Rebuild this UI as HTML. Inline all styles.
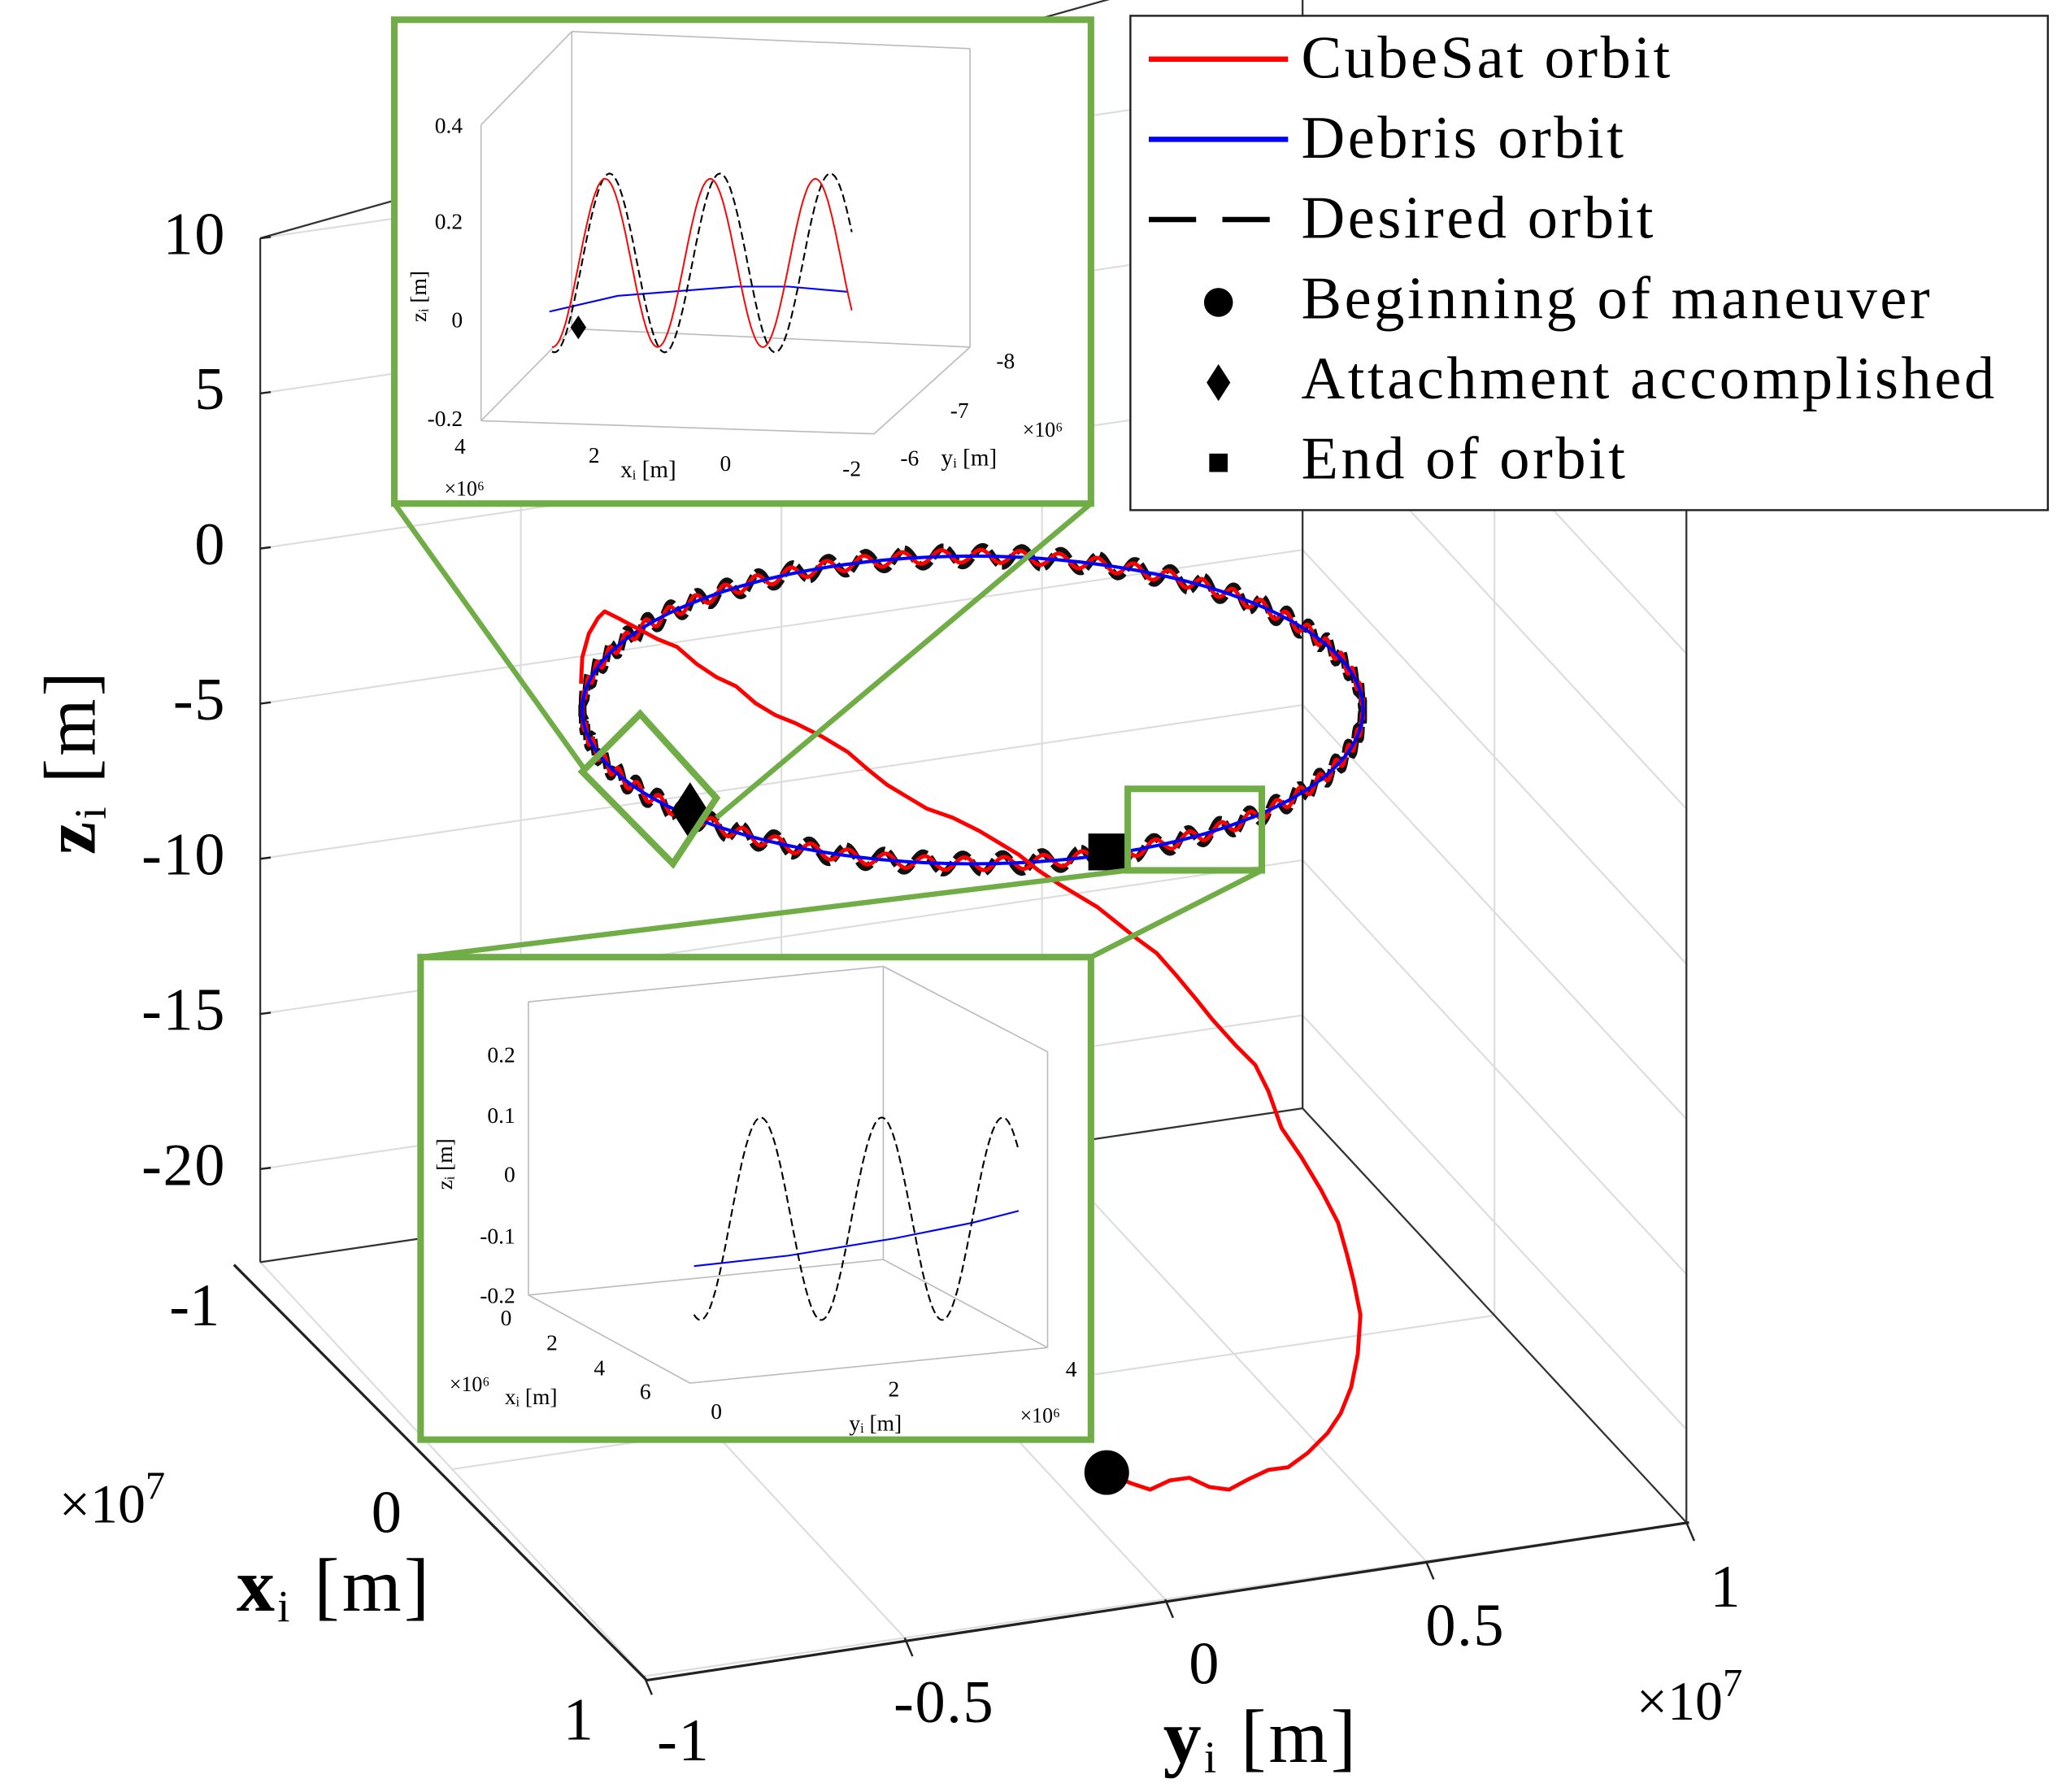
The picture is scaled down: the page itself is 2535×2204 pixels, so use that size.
<!DOCTYPE html>
<html><head><meta charset="utf-8"><style>
html,body{margin:0;padding:0;background:#fff;}
svg{display:block;}
text{font-family:"Liberation Serif","DejaVu Serif",serif;fill:#000;}
</style></head><body>
<svg id="chart" width="2535" height="2204" viewBox="0 0 1568 1363" preserveAspectRatio="none" xmlns="http://www.w3.org/2000/svg">
<g id="grid"></g>
<g id="axes"></g>
<g id="ticks"></g>
<g id="series"></g>
<g id="insets"></g>
<g id="legend"></g>
</svg>
<script>
// ---- data ----
const zTicks = [10, 5, 0, -5, -10, -15, -20];
const zTickLabels = ["10", "5", "0", "-5", "-10", "-15", "-20"];
const xTicks = [-1, 0, 1];
const xTickLabels = ["-1", "0", "1"];
const yTicks = [-1, -0.5, 0, 0.5, 1];
const yTickLabels = ["-1", "-0.5", "0", "0.5", "1"];
// orbit (screen-projected ellipse parameters in plot units)
const orbitCenter = [740, 540];
const orbitRadii = [297, 117];
const desiredWaveCycles = 62;
const desiredWaveAmp = 7;
// CubeSat transfer path (projected plot units)
const transferU = [842,860,875,890,905,920,935,950,965,980,995,1010,1020,1028,1033,1035,1030,1025,1018,1005,990,975,965,955,940,922,910,895,880,865,850,835,820,805,790,775,760,745,725,705,690,675,660,645,625,605,590,575,560,545,530,515,500,485,470,460,455,448,443,442];
const transferV = [1120,1128,1133,1126,1124,1131,1133,1125,1118,1116,1105,1090,1075,1055,1030,1000,975,955,930,905,880,858,830,810,795,775,760,742,725,714,702,690,681,672,662,650,641,632,622,615,606,597,585,572,560,550,544,535,522,515,505,492,486,478,470,465,470,482,500,520];
const markerBegin = [842, 1120];
const markerAttach = [525, 617];
const markerEnd = [842, 648];

// ---- projection ----
function P(x, y, z) {
  const a = (x + 1) / 2, b = (y + 1) / 2;
  return [198 + a * 292 + b * 793, 960 + a * 315 - b * 117 - (z + 23) * 23.6];
}
const NS = "http://www.w3.org/2000/svg";
function el(parent, tag, attrs, txt) {
  const e = document.createElementNS(NS, tag);
  for (const k in attrs) e.setAttribute(k, attrs[k]);
  if (txt !== undefined) e.textContent = txt;
  parent.appendChild(e);
  return e;
}
function line(g, p, q, stroke, w) {
  return el(g, "line", {x1: p[0], y1: p[1], x2: q[0], y2: q[1], stroke: stroke, "stroke-width": w});
}
const grid = document.getElementById("grid");
const axes = document.getElementById("axes");
const ticks = document.getElementById("ticks");
const series = document.getElementById("series");
const insets = document.getElementById("insets");
const legend = document.getElementById("legend");
const GC = "#dcdcdc";
zTicks.forEach(z => {
  const l1 = line(grid, P(-1, -1, z), P(-1, 1, z), GC, 1.3);
  
  
  const l2 = line(grid, P(-1, 1, z), P(1, 1, z), GC, 1.3);
  
  
});
yTicks.forEach(y => {
  if (y > -1) {
    const l = line(grid, P(-1, y, -23), P(-1, y, 13), GC, 1.3);
    
    
  }
  const f = line(grid, P(-1, y, -23), P(1, y, -23), GC, 1.3);
  
  
});
xTicks.forEach(x => {
  const l = line(grid, P(x, 1, -23), P(x, 1, 13), GC, 1.3);
  
  
  const f = line(grid, P(x, -1, -23), P(x, 1, -23), GC, 1.3);
  
  
});
[[P(-1,-1,-23),P(-1,-1,10)],[P(-1,1,-23),P(-1,1,13)],[P(1,1,-23),P(1,1,13)],[P(-1,-1,10),P(-1,1,14.5)],[P(-1,1,-23),P(1,1,-23)],[P(-1,-1,-23),P(-1,1,-23)]].forEach(e => {
  const l = line(axes, e[0], e[1], "#333", 1.4);
  
  
});
const xa = line(axes, [178, 962], [492, 1278], "#222", 2);


const ya = line(axes, [492, 1278], [1285, 1158], "#222", 2);


zTicks.forEach((z, i) => {
  const p = P(-1, -1, z);
  const t = el(ticks, "text", {x: p[0] - 26, y: p[1] + 12, "font-size": 46, "text-anchor": "end", "letter-spacing": 1}, zTickLabels[i]);
  
  
  line(ticks, p, [p[0] + 8, p[1] - 1], "#222", 1.5);
});
xTicks.forEach((x, i) => {
  const p = P(x, -1, -23);
  const t = el(ticks, "text", {x: p[0] - 50, y: p[1] + 48, "font-size": 46, "text-anchor": "middle"}, xTickLabels[i]);
  
  
});
yTicks.forEach((y, i) => {
  const p = P(1, y, -23);
  const t = el(ticks, "text", {x: p[0] + 30, y: p[1] + 64, "font-size": 46, "text-anchor": "middle", "letter-spacing": 1}, yTickLabels[i]);
  
  
  line(ticks, p, [p[0] + 6, p[1] + 14], "#222", 1.5);
});
const xm = el(ticks, "text", {x: 45, y: 1158, "font-size": 42}, "×10");


el(xm, "tspan", {dy: -18, "font-size": 30}, "7");
const ym = el(ticks, "text", {x: 1245, y: 1308, "font-size": 42}, "×10");


el(ym, "tspan", {dy: -18, "font-size": 30}, "7");
const zt = el(ticks, "text", {x: 0, y: 0, "font-size": 56, transform: "translate(72,650) rotate(-90)", "letter-spacing": 2});


el(zt, "tspan", {"font-weight": "bold"}, "z");
el(zt, "tspan", {"font-size": 34, dy: 8}, "i");
el(zt, "tspan", {dy: -8}, " [m]");
const xt = el(ticks, "text", {x: 180, y: 1225, "font-size": 58, "letter-spacing": 2});


el(xt, "tspan", {"font-weight": "bold"}, "x");
el(xt, "tspan", {"font-size": 34, dy: 8}, "i");
el(xt, "tspan", {dy: -8}, " [m]");
const ytt = el(ticks, "text", {x: 885, y: 1340, "font-size": 58, "letter-spacing": 2});


el(ytt, "tspan", {"font-weight": "bold"}, "y");
el(ytt, "tspan", {"font-size": 34, dy: 8}, "i");
el(ytt, "tspan", {dy: -8}, " [m]");

function ellipsePts(wobAmp, cycles, phase, n) {
  const pts = [];
  for (let k = 0; k <= n; k++) {
    const th = k / n * 2 * Math.PI;
    const off = wobAmp * Math.sin(cycles * th + phase);
    pts.push([orbitCenter[0] + orbitRadii[0] * Math.cos(th), orbitCenter[1] + orbitRadii[1] * Math.sin(th) + off]);
  }
  return pts.map(p => p[0].toFixed(1) + "," + p[1].toFixed(1)).join(" ");
}
const desired = el(series, "polyline", {points: ellipsePts(desiredWaveAmp, desiredWaveCycles, 0, 1600), fill: "none", stroke: "#111", "stroke-width": 6, "stroke-dasharray": "12 3"});


const cube = el(series, "polyline", {points: ellipsePts(desiredWaveAmp * 0.7, desiredWaveCycles, 0.3, 1600), fill: "none", stroke: "#ff0000", "stroke-width": 3});


const deb = el(series, "polyline", {points: ellipsePts(0, 0, 0, 400), fill: "none", stroke: "#0000ff", "stroke-width": 2.5});


const tr = el(series, "polyline", {points: transferU.map((u, i) => u + "," + transferV[i]).join(" "), fill: "none", stroke: "#ff0000", "stroke-width": 3, "stroke-linejoin": "round"});


const mb = el(series, "circle", {cx: markerBegin[0], cy: markerBegin[1], r: 17, fill: "#000"});


const ma = el(series, "polygon", {points: `${markerAttach[0]},${markerAttach[1]-22} ${markerAttach[0]+14},${markerAttach[1]} ${markerAttach[0]},${markerAttach[1]+22} ${markerAttach[0]-14},${markerAttach[1]}`, fill: "#000"});


const me = el(series, "rect", {x: markerEnd[0] - 14, y: markerEnd[1] - 14, width: 28, height: 28, fill: "#000"});



const G = "#70ad47";
[[[300,383],[446,587]],[[830,383],[545,622]],[[320,728],[858,662]],[[830,728],[960,662]]].forEach(s => {
  const l = line(insets, s[0], s[1], G, 4);
  
  
});
const zb1 = el(insets, "polygon", {points: "443,587 487,543 545,607 512,657", fill: "none", stroke: G, "stroke-width": 5});


const zb2 = el(insets, "rect", {x: 858, y: 600, width: 102, height: 62, fill: "none", stroke: G, "stroke-width": 5});



const i1 = el(insets, "g", {});


el(i1, "rect", {x: 300, y: 15, width: 530, height: 368, fill: "#fff", stroke: G, "stroke-width": 5});
const ig = "#bbb";
line(i1, [366,95], [435,24], ig, 1); line(i1, [435,24], [738,37], ig, 1); line(i1, [738,37], [738,264], ig, 1);
line(i1, [435,24], [435,250], ig, 1); line(i1, [366,95], [366,320], ig, 1); line(i1, [435,250], [738,264], ig, 1);
line(i1, [366,320], [435,250], ig, 1); line(i1, [366,320], [665,330], ig, 1); line(i1, [665,330], [738,264], ig, 1);
[["0.4",95],["0.2",168],["0",243],["-0.2",318]].forEach(t => {
  const e = el(i1, "text", {x: 352, y: t[1] + 6, "font-size": 17, "text-anchor": "end"}, t[0]);
  
  
});
[["4",350,345],["2",452,352],["0",552,358],["-2",648,362],["-8",765,280],["-7",730,318],["-6",692,354]].forEach(t => {
  const e = el(i1, "text", {x: t[1], y: t[2], "font-size": 17, "text-anchor": "middle"}, t[0]);
  
  
});
el(i1, "text", {x: 472, y: 363, "font-size": 18}, "x\u1D62 [m]");
el(i1, "text", {x: 716, y: 354, "font-size": 18}, "y\u1D62 [m]");
el(i1, "text", {x: 338, y: 377, "font-size": 16}, "×10⁶");
el(i1, "text", {x: 778, y: 332, "font-size": 16}, "×10⁶");
el(i1, "text", {x: 0, y: 0, "font-size": 17, transform: "translate(324,245) rotate(-90)"}, "z\u1D62 [m]");
function sinPts(x0, x1, y0, amp, per, ph) {
  const a = [];
  for (let k = 0; k <= 200; k++) { const x = x0 + (x1 - x0) * k / 200; a.push(x.toFixed(1) + "," + (y0 - amp * Math.sin((x - x0) / per * 2 * Math.PI + ph)).toFixed(1)); }
  return a.join(" ");
}
el(i1, "polyline", {points: "418,237 470,225 560,218 600,218 645,222", fill: "none", stroke: "#0000ff", "stroke-width": 1.3});
el(i1, "polyline", {points: sinPts(420, 648, 200, 68, 84, -1.7), fill: "none", stroke: "#000", "stroke-width": 1.3, "stroke-dasharray": "6 3"});
el(i1, "polyline", {points: sinPts(420, 648, 200, 64, 80, -1.6), fill: "none", stroke: "#ff0000", "stroke-width": 1.2});
el(i1, "polygon", {points: "440,240 446,249 440,258 434,249", fill: "#000"});

const i2 = el(insets, "g", {});


el(i2, "rect", {x: 320, y: 728, width: 510, height: 367, fill: "#fff", stroke: G, "stroke-width": 5});
line(i2, [402,762], [672,735], ig, 1); line(i2, [672,735], [797,800], ig, 1); line(i2, [797,800], [797,1025], ig, 1);
line(i2, [402,762], [402,985], ig, 1); line(i2, [672,735], [672,958], ig, 1); line(i2, [402,985], [672,958], ig, 1);
line(i2, [672,958], [797,1025], ig, 1); line(i2, [402,985], [525,1052], ig, 1); line(i2, [525,1052], [797,1025], ig, 1);
[["0.2",802],["0.1",848],["0",893],["-0.1",940],["-0.2",985]].forEach(t => {
  const e = el(i2, "text", {x: 392, y: t[1] + 6, "font-size": 17, "text-anchor": "end"}, t[0]);
  
  
});
[["0",385,1008],["2",420,1027],["4",456,1046],["6",491,1064],["0",545,1079],["2",680,1062],["4",815,1047]].forEach(t => {
  const e = el(i2, "text", {x: t[1], y: t[2], "font-size": 17, "text-anchor": "middle"}, t[0]);
  
  
});
el(i2, "text", {x: 342, y: 1058, "font-size": 16}, "×10⁶");
el(i2, "text", {x: 384, y: 1068, "font-size": 17}, "x\u1D62 [m]");
el(i2, "text", {x: 646, y: 1088, "font-size": 17}, "y\u1D62 [m]");
el(i2, "text", {x: 776, y: 1082, "font-size": 16}, "×10⁶");
el(i2, "text", {x: 0, y: 0, "font-size": 17, transform: "translate(344,905) rotate(-90)"}, "z\u1D62 [m]");
el(i2, "polyline", {points: "528,963 600,955 680,942 740,930 775,921", fill: "none", stroke: "#0000ff", "stroke-width": 1.3});
el(i2, "polyline", {points: sinPts(528, 775, 927, 77, 92, -1.9), fill: "none", stroke: "#000", "stroke-width": 1.3, "stroke-dasharray": "6 3"});

el(legend, "rect", {x: 860, y: 12, width: 698, height: 376, fill: "#fff", stroke: "#222", "stroke-width": 1.5});
const items = [["CubeSat orbit","red"],["Debris orbit","blue"],["Desired orbit","dash"],["Beginning of maneuver","circle"],["Attachment accomplished","diamond"],["End of orbit","square"]];
items.forEach((it, i) => {
  const y = 45 + i * 61;
  const g = el(legend, "g", {});
  
  
  if (it[1] === "red") line(g, [874, y], [980, y], "#ff0000", 4);
  if (it[1] === "blue") line(g, [874, y], [980, y], "#0000ff", 4);
  if (it[1] === "dash") el(g, "line", {x1: 874, y1: y, x2: 970, y2: y, stroke: "#000", "stroke-width": 4, "stroke-dasharray": "36 20"});
  if (it[1] === "circle") el(g, "circle", {cx: 927, cy: y + 2, r: 11, fill: "#000"});
  if (it[1] === "diamond") el(g, "polygon", {points: `927,${y-12} 936,${y+2} 927,${y+16} 918,${y+2}`, fill: "#000"});
  if (it[1] === "square") el(g, "rect", {x: 920, y: y - 5, width: 14, height: 14, fill: "#000"});
  el(g, "text", {x: 990, y: y + 14, "font-size": 46, "letter-spacing": 2.2}, it[0]);
});
</script>
</body></html>
